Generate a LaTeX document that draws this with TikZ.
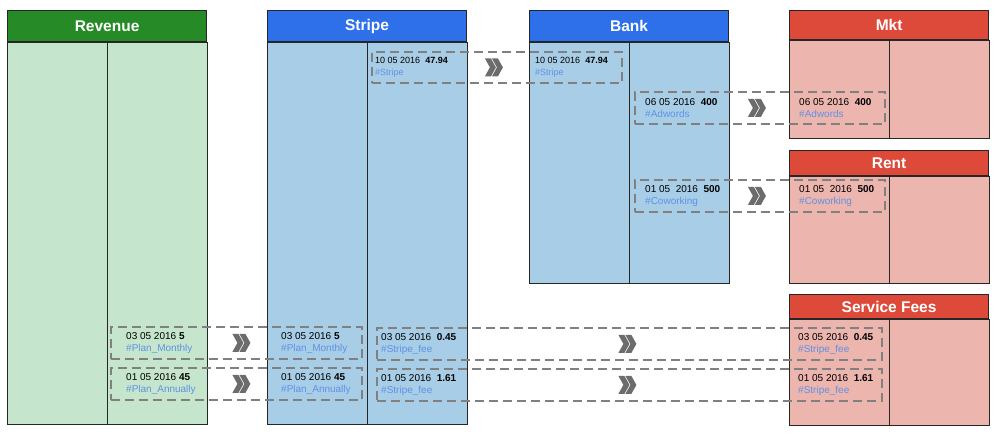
\documentclass[tikz,border=0pt]{standalone}
\usepackage{fontspec}
\setmainfont{Liberation Sans}
\usetikzlibrary{positioning}
\definecolor{revHead}{RGB}{38,139,38}
\definecolor{revBody}{RGB}{197,230,205}
\definecolor{bankHead}{RGB}{45,112,234}
\definecolor{bankBody}{RGB}{168,205,230}
\definecolor{expHead}{RGB}{221,74,58}
\definecolor{expBody}{RGB}{236,181,174}
\definecolor{dashColor}{RGB}{128,128,128}
\definecolor{chevColor}{RGB}{108,108,108}
\definecolor{tagColor}{RGB}{95,145,230}
\colorlet{lineColor}{black!85}
\tikzstyle{header}=[rectangle, draw=lineColor, line width=1.2pt, minimum width=199pt,
  anchor=north west, inner sep=0pt, text=white, font=\bfseries\fontsize{15.5}{18}\selectfont]
\tikzstyle{body}=[rectangle, draw=lineColor, line width=1.2pt, minimum width=99.5pt,
  anchor=north west, inner sep=0pt]
\tikzstyle{transfer}=[rectangle, draw=dashColor, line width=1.8pt, dash pattern=on 9pt off 5pt,
  minimum width=250pt, minimum height=31pt, anchor=north west, inner sep=0pt]
\tikzstyle{entry}=[align=left, inner sep=0pt, font=\fontsize{10}{12}\selectfont]
\tikzstyle{small entry}=[entry, font=\fontsize{9}{12}\selectfont]
\tikzset{chevron/.pic={
  \fill[chevColor] (-9,-9) -- (-3,-9) -- (2,0) -- (-3,9) -- (-9,9) -- (-4,0) -- cycle;
  \fill[chevColor] (-2,-9) -- (4,-9) -- (9,0) -- (4,9) -- (-2,9) -- (3,0) -- cycle;}}
\newcommand{\tagtext}[1]{\textcolor{tagColor}{#1}}

\begin{document}
\begin{tikzpicture}[x=1pt, y=-1pt]
      \useasboundingbox (0,0) rectangle (1000,435);
      % accounts
      \node (rev) [header, fill=revHead, minimum height=31pt] at (7,10) {Revenue};
      \node (rev-dr) [body, fill=revBody, minimum height=382pt] at (rev.south west) {};
      \node (rev-cr) [body, fill=revBody, minimum height=382pt] at (rev.south) {};
      \node (stripe) [header, fill=bankHead, minimum height=31pt] at (267,10) {Stripe};
      \node (stripe-dr) [body, fill=bankBody, minimum height=382pt] at (stripe.south west) {};
      \node (stripe-cr) [body, fill=bankBody, minimum height=382pt] at (stripe.south) {};
      \node (bank) [header, fill=bankHead, minimum height=31pt] at (529,10) {Bank};
      \node (bank-dr) [body, fill=bankBody, minimum height=241pt] at (bank.south west) {};
      \node (bank-cr) [body, fill=bankBody, minimum height=241pt] at (bank.south) {};
      \node (mkt) [header, fill=expHead, minimum height=29pt] at (789,10) {Mkt};
      \node (mkt-dr) [body, fill=expBody, minimum height=98pt] at (mkt.south west) {};
      \node (mkt-cr) [body, fill=expBody, minimum height=98pt] at (mkt.south) {};
      \node (rent) [header, fill=expHead, minimum height=25pt] at (789,150) {Rent};
      \node (rent-dr) [body, fill=expBody, minimum height=107pt] at (rent.south west) {};
      \node (rent-cr) [body, fill=expBody, minimum height=107pt] at (rent.south) {};
      \node (fees) [header, fill=expHead, minimum height=24pt] at (789,294) {Service Fees};
      \node (fees-dr) [body, fill=expBody, minimum height=106pt] at (fees.south west) {};
      \node (fees-cr) [body, fill=expBody, minimum height=106pt] at (fees.south) {};
      % transfers
      \node (t1) [transfer] at (371,51) {};
      \node (t1-src) [small entry, right=4pt of t1.west] {10 05 2016\ \ \textbf{47.94}\\\tagtext{\#Stripe}};
      \node (t1-dst) [small entry, right=164pt of t1.west] {10 05 2016\ \ \textbf{47.94}\\\tagtext{\#Stripe}};
      \pic at ([xshift=-3pt]t1.center) {chevron};
      \node (t2) [transfer, minimum height=32pt] at (634,91) {};
      \node (t2-src) [entry, right=11pt of t2.west] {06 05 2016\ \ \textbf{400}\\\tagtext{\#Adwords}};
      \node (t2-dst) [entry, right=165pt of t2.west] {06 05 2016\ \ \textbf{400}\\\tagtext{\#Adwords}};
      \pic at ([xshift=-3pt]t2.center) {chevron};
      \node (t3) [transfer, minimum height=32pt] at (634,179) {};
      \node (t3-src) [entry, right=11pt of t3.west] {01 05\ \ 2016\ \ \textbf{500}\\\tagtext{\#Coworking}};
      \node (t3-dst) [entry, right=165pt of t3.west] {01 05\ \ 2016\ \ \textbf{500}\\\tagtext{\#Coworking}};
      \pic at ([xshift=-3pt]t3.center) {chevron};
      \node (t4) [transfer, minimum width=251pt, minimum height=32pt] at (110,326) {};
      \node (t4-src) [entry, right=16pt of t4.west] {03 05 2016 \textbf{5}\\\tagtext{\#Plan\_Monthly}};
      \node (t4-dst) [entry, right=171pt of t4.west] {03 05 2016 \textbf{5}\\\tagtext{\#Plan\_Monthly}};
      \pic at ([xshift=5pt]t4.center) {chevron};
      \node (t5) [transfer, minimum width=251pt, minimum height=32pt] at (110,367) {};
      \node (t5-src) [entry, right=16pt of t5.west] {01 05 2016 \textbf{45}\\\tagtext{\#Plan\_Annually}};
      \node (t5-dst) [entry, right=171pt of t5.west] {01 05 2016 \textbf{45}\\\tagtext{\#Plan\_Annually}};
      \pic at ([xshift=5pt]t5.center) {chevron};
      \node (t6) [transfer, minimum width=505pt, minimum height=32pt] at (376,327) {};
      \node (t6-src) [entry, right=5pt of t6.west] {03 05 2016\ \ \textbf{0.45}\\\tagtext{\#Stripe\_fee}};
      \node (t6-dst) [entry, right=422pt of t6.west] {03 05 2016\ \ \textbf{0.45}\\\tagtext{\#Stripe\_fee}};
      \pic at ([xshift=-2pt]t6.center) {chevron};
      \node (t7) [transfer, minimum width=505pt, minimum height=32pt] at (376,368) {};
      \node (t7-src) [entry, right=5pt of t7.west] {01 05 2016\ \ \textbf{1.61}\\\tagtext{\#Stripe\_fee}};
      \node (t7-dst) [entry, right=422pt of t7.west] {01 05 2016\ \ \textbf{1.61}\\\tagtext{\#Stripe\_fee}};
      \pic at ([xshift=-2pt]t7.center) {chevron};
    \end{tikzpicture}
\end{document}
